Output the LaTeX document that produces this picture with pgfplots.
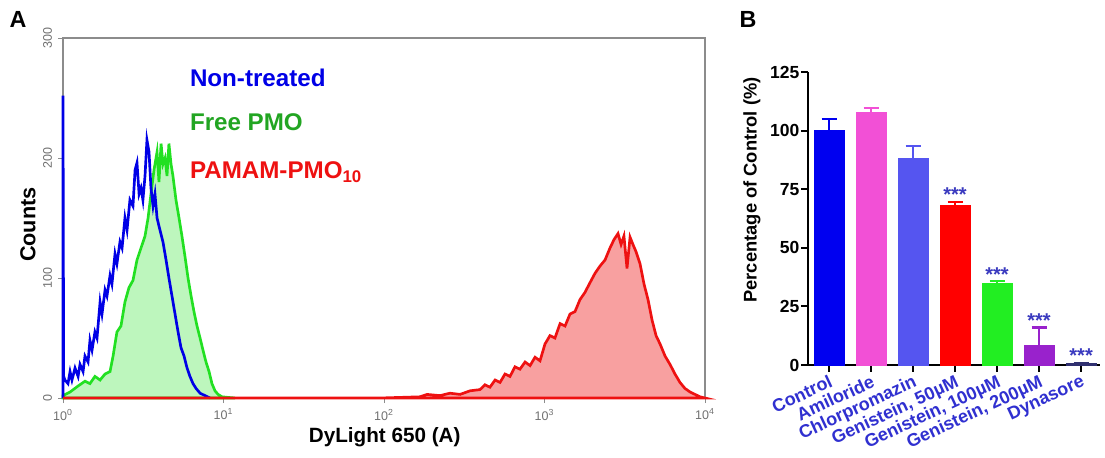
\documentclass[border=0pt]{standalone}
\usepackage{fontspec}
\setmainfont{Liberation Sans}
\usepackage{pgfplots}
\pgfplotsset{compat=1.18}
\definecolor{NTblue}{HTML}{0000E6}
\definecolor{FPgreen}{HTML}{22E022}
\definecolor{FPtext}{HTML}{22A522}
\definecolor{PPred}{HTML}{EE1111}
\definecolor{Frame}{HTML}{8C8C8C}
\definecolor{CtrlC}{HTML}{0000F0}
\definecolor{AmilC}{HTML}{F250D6}
\definecolor{ChloC}{HTML}{5555F0}
\definecolor{Gen50C}{HTML}{FF0000}
\definecolor{Gen100C}{HTML}{22EE22}
\definecolor{Gen200C}{HTML}{9922CC}
\definecolor{DynC}{HTML}{303070}
\definecolor{LblBlue}{HTML}{3030D0}
\definecolor{StarC}{HTML}{3A3ABF}
\begin{document}
\begin{tikzpicture}
\useasboundingbox (-37.8pt,-35.4pt) rectangle (625.2pt,238.8pt);
% ---- panel A: histogram, x in decades of fluorescence
\begin{axis}[at={(0pt,0pt)}, anchor=south west, scale only axis,
 width=385.2pt, height=216pt, xmin=0, xmax=4, ymin=0, ymax=300,
 axis line style={draw=Frame,line width=0.8pt},
 tick style={draw=Frame,line width=0.6pt}, tick align=outside,
 major tick length=3pt, xtick pos=left, ytick pos=left,
 xtick={0,1,2,3,4},
 xticklabels={10\textsuperscript{0},10\textsuperscript{1},10\textsuperscript{2},10\textsuperscript{3},10\textsuperscript{4}},
 ytick={0,100,200,300}, yticklabels={0,100,200,300},
 ticklabel style={text=Frame!80!black,font=\fontsize{7.5}{8}\selectfont},
 yticklabel style={rotate=90,anchor=south},
 clip=false]
\addplot[draw=FPgreen,line width=1.6pt,fill=FPgreen!30] coordinates {
(0,2)(0.044,5)(0.094,10)(0.137,14)(0.168,12)(0.199,18)(0.231,15)(0.262,20)
(0.293,22)(0.312,35)(0.336,55)(0.361,60)(0.386,80)(0.411,92)(0.436,98)
(0.461,115)(0.486,125)(0.511,135)(0.530,150)(0.548,170)(0.567,190)(0.586,205)
(0.598,180)(0.611,212)(0.623,195)(0.636,200)(0.648,185)(0.660,212)(0.673,195)
(0.685,185)(0.704,165)(0.723,150)(0.741,135)(0.760,118)(0.779,100)(0.798,85)
(0.816,72)(0.835,60)(0.854,50)(0.872,40)(0.891,30)(0.910,22)(0.928,12)
(0.947,6)(0.966,3)(0.991,1)(1.028,0.5)(1.072,0)} \closedcycle;
\addplot[draw=NTblue,line width=1.6pt] coordinates {
(0,0)(0,252)(0.004,18)(0.012,15)(0.031,12)(0.044,22)(0.056,15)(0.075,25)
(0.094,18)(0.106,28)(0.125,22)(0.137,35)(0.156,30)(0.168,48)(0.181,40)
(0.199,55)(0.212,50)(0.231,80)(0.243,70)(0.262,90)(0.274,85)(0.293,102)
(0.305,95)(0.324,120)(0.336,112)(0.355,130)(0.368,125)(0.386,150)(0.399,140)
(0.417,165)(0.436,160)(0.449,190)(0.461,196)(0.474,170)(0.486,175)(0.498,165)
(0.511,185)(0.523,215)(0.536,205)(0.548,175)(0.561,160)(0.573,170)(0.586,150)
(0.604,140)(0.623,130)(0.642,115)(0.660,100)(0.679,85)(0.698,70)(0.717,55)
(0.735,42)(0.754,35)(0.773,25)(0.791,18)(0.810,12)(0.829,8)(0.854,4)
(0.885,2)(0.916,0)};
\addplot[draw=PPred,line width=1.6pt,fill=PPred!40] coordinates {
(0,0)(1.975,0)(2.1,0.5)(2.224,1)(2.268,3)(2.349,2)(2.411,4)(2.474,3)(2.536,6)
(2.598,7)(2.629,11)(2.660,9)(2.692,15)(2.723,13)(2.754,20)(2.785,18)(2.816,26)
(2.847,24)(2.879,30)(2.910,27)(2.941,34)(2.972,31)(3.003,45)(3.034,52)
(3.065,50)(3.097,62)(3.128,60)(3.159,70)(3.190,72)(3.221,82)(3.252,88)
(3.283,96)(3.315,104)(3.346,110)(3.377,115)(3.408,125)(3.433,132)(3.458,137)
(3.477,128)(3.495,135)(3.514,108)(3.533,134)(3.551,128)(3.570,122)(3.595,112)
(3.620,95)(3.645,82)(3.670,65)(3.695,52)(3.720,45)(3.751,35)(3.782,28)
(3.813,20)(3.844,13)(3.875,8)(3.907,5)(3.938,3)(3.969,1)(4,0)} \closedcycle;
\end{axis}
\node[font=\bfseries\fontsize{14}{16}\selectfont] at (-27pt,227pt) {A};
\node[font=\bfseries\fontsize{13}{15}\selectfont,rotate=90] at (-21pt,104pt) {Counts};
\node[font=\bfseries\fontsize{12.4}{14}\selectfont] at (193pt,-23.4pt) {DyLight 650 (A)};
\begin{scope}[every node/.style={anchor=west,inner sep=0pt,font=\bfseries\fontsize{14.5}{16}\selectfont}]
\node[text=NTblue] at (76pt,192pt) {Non-treated};
\node[text=FPtext] at (76pt,165.6pt) {Free PMO};
\node[text=PPred] at (76pt,135.6pt) {PAMAM-PMO\textsubscript{10}};
\end{scope}
% ---- panel B: bar chart
\node[font=\bfseries\fontsize{14}{16}\selectfont] at (411pt,227pt) {B};
\node[font=\bfseries\fontsize{11}{13}\selectfont,rotate=90] at (413.4pt,124.8pt) {Percentage of Control (\%)};
\begin{axis}[at={(447pt,19.8pt)}, anchor=south west, scale only axis,
 width=175.2pt, height=175.8pt, xmin=-0.5, xmax=6.45, ymin=0, ymax=125,
 axis x line*=bottom, axis y line*=left,
 axis line style={line width=1.5pt,black},
 tick style={line width=1.2pt,black}, tick align=outside, major tick length=4pt,
 ybar, bar width=18pt, bar shift=0pt,
 ytick={0,25,50,75,100,125},
 yticklabel style={font=\bfseries\fontsize{10.5}{12}\selectfont,inner sep=1pt},
 /pgf/number format/assume math mode=true,
 xtick={0,1,2,3,4,5,6},
 xticklabels={Control,Amiloride,Chlorpromazin,{Genistein, 50µM},{Genistein, 100µM},{Genistein, 200µM},Dynasore},
 xticklabel style={rotate=25,anchor=north east,text=LblBlue,
   font=\bfseries\fontsize{10.8}{12}\selectfont,inner sep=1pt},
 error bars/y dir=plus, error bars/y explicit,
 error bars/error mark options={rotate=90,mark size=4.5pt,line width=1.3pt},
 clip=false]
\addplot[fill=CtrlC,draw=CtrlC,error bars/error bar style={CtrlC,line width=1.3pt}] coordinates {(0,100) +- (0,5)};
\addplot[fill=AmilC,draw=AmilC,error bars/error bar style={AmilC,line width=1.3pt}] coordinates {(1,108) +- (0,1.5)};
\addplot[fill=ChloC,draw=ChloC,error bars/error bar style={ChloC,line width=1.3pt}] coordinates {(2,88) +- (0,5.5)};
\addplot[fill=Gen50C,draw=Gen50C,error bars/error bar style={Gen50C,line width=1.3pt}] coordinates {(3,68) +- (0,1.5)};
\addplot[fill=Gen100C,draw=Gen100C,error bars/error bar style={Gen100C,line width=1.3pt}] coordinates {(4,35) +- (0,0.7)};
\addplot[fill=Gen200C,draw=Gen200C,error bars/error bar style={Gen200C,line width=1.3pt}] coordinates {(5,8.5) +- (0,7.5)};
\addplot[fill=DynC,draw=DynC,error bars/error bar style={DynC,line width=1.3pt}] coordinates {(6,0.6) +- (0,0.3)};
\begin{scope}[every node/.style={text=StarC,font=\bfseries\fontsize{12}{13}\selectfont,inner sep=0pt}]
\node at (axis cs:3,72.5) {***};
\node at (axis cs:4,38.5) {***};
\node at (axis cs:5,19) {***};
\node at (axis cs:6,4) {***};
\end{scope}
\end{axis}
\end{tikzpicture}
\end{document}
